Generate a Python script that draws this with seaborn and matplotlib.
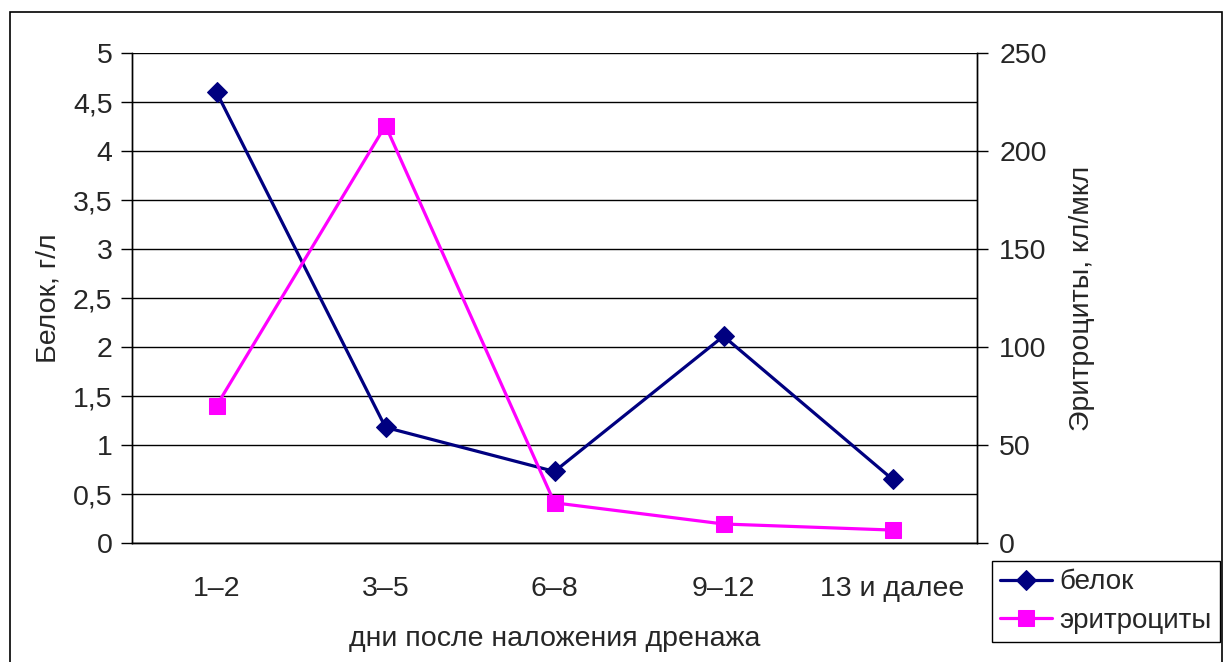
import matplotlib
matplotlib.use("Agg")
import matplotlib.pyplot as plt
from matplotlib.patches import Rectangle
from matplotlib.ticker import FuncFormatter, FixedLocator
import seaborn as sns
import pandas as pd

# данные
categories = ["1–2", "3–5", "6–8", "9–12", "13 и далее"]
belok = [4.6, 1.18, 0.73, 2.11, 0.65]
eritrocity = [70, 213, 20.5, 9.7, 6.6]

sns.set_style("white")
plt.rcParams["font.family"] = ["Liberation Sans", "DejaVu Sans"]
plt.rcParams["font.size"] = 20.5

df = pd.DataFrame({"pos": range(len(categories)), "belok": belok, "eritrocity": eritrocity})

fig = plt.figure(figsize=(12.28, 6.62), dpi=100)
ax = fig.add_axes([132 / 1228, 1 - 543 / 662, 845 / 1228, 490 / 662])
ax2 = ax.twinx()

sns.lineplot(data=df, x="pos", y="belok", ax=ax, color="#000080", marker="D",
             markersize=10, linewidth=2.3, markeredgecolor="#000080", label="белок",
             legend=False, zorder=3)
sns.lineplot(data=df, x="pos", y="eritrocity", ax=ax2, color="#FF00FF", marker="s",
             markersize=12, linewidth=2.3, markeredgecolor="#FF00FF", label="эритроциты",
             legend=False, zorder=3)

comma = FuncFormatter(lambda v, p: ("%g" % v).replace(".", ","))

ax.set_xlim(-0.5, len(categories) - 0.5)
ax.set_ylim(0, 5)
ax.set_yticks([i * 0.5 for i in range(11)])
ax.yaxis.set_major_formatter(comma)
ax.set_xticks(range(len(categories)))
ax.set_xticklabels(categories)
ax.xaxis.set_minor_locator(FixedLocator([i - 0.5 for i in range(len(categories) + 1)]))
ax.tick_params(axis="x", which="major", length=0, pad=24)
ax.tick_params(axis="x", which="minor", length=8, width=1, color="black", direction="out")
ax.tick_params(axis="y", length=8, width=1, color="black", direction="out", pad=6)
ax.grid(axis="y", color="black", linewidth=1)
ax.set_axisbelow(True)

ax2.set_ylim(0, 250)
ax2.set_yticks(range(0, 251, 50))
ax2.tick_params(axis="y", length=8, width=1, color="black", direction="out", pad=8)

for a in (ax, ax2):
    for s in a.spines.values():
        s.set_color("black")
        s.set_linewidth(1)
    a.spines["top"].set_visible(False)

ax.set_xlabel("дни после наложения дренажа", labelpad=17)
ax.set_ylabel("Белок, г/л", labelpad=8)
ax2.set_ylabel("Эритроциты, кл/мкл", labelpad=16)

h1, l1 = ax.get_legend_handles_labels()
h2, l2 = ax2.get_legend_handles_labels()
fig.legend(h1 + h2, l1 + l2, loc="upper left", bbox_to_anchor=(992 / 1228, 1 - 561 / 662),
           frameon=True, fancybox=False, edgecolor="black", framealpha=1,
           fontsize=20, borderpad=0.3, handlelength=1.85, handletextpad=0.28,
           labelspacing=0.45, borderaxespad=0)

fig.patches.append(Rectangle((10 / 1228, -0.01), 1212 / 1228, 1 - 12 / 662 + 0.01,
                             transform=fig.transFigure, fill=False,
                             edgecolor="black", linewidth=1.2))

fig.savefig("out.png", dpi=100)
